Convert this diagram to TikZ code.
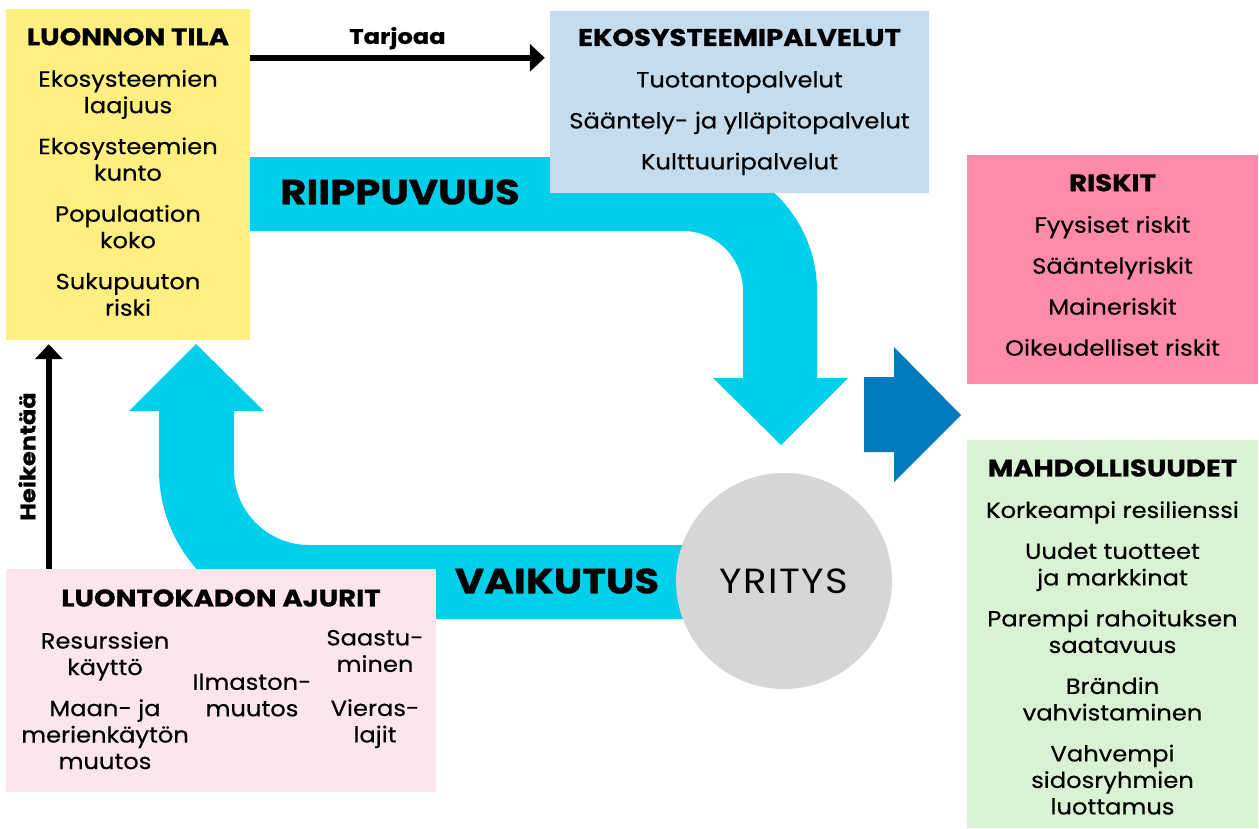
\documentclass[tikz,border=0pt]{standalone}
\usepackage{fontspec}
\setmainfont{Poppins}[FakeStretch=1.1, FakeBold=0.35]
\newfontfamily\headfont{Poppins}[FakeStretch=1.15, BoldFeatures={FakeBold=0.8}]
\newfontfamily\circlefont{Poppins}[FakeStretch=1.1, LetterSpace=4]
\usetikzlibrary{arrows.meta}
\usetikzlibrary{calc}

\definecolor{yellowbox}{HTML}{FFEE80}
\definecolor{bluebox}{HTML}{C4DCEE}
\definecolor{riskbox}{HTML}{FF8AA9}
\definecolor{greenbox}{HTML}{D9F2D3}
\definecolor{pinkbox}{HTML}{FDE5EC}
\definecolor{cyanband}{HTML}{00CFEA}
\definecolor{darkarrow}{HTML}{007BBD}
\definecolor{graycircle}{HTML}{D6D6D6}

\newcommand{\boxhead}[1]{{\fontsize{24}{26}\selectfont\headfont\bfseries #1}}
\newcommand{\arrowlabel}[1]{{\fontsize{21}{26}\selectfont\headfont\bfseries #1}}

\begin{document}
\begin{tikzpicture}[x=1pt, y=-1pt,
  box/.style={fill=#1, inner sep=0pt, align=center, font=\fontsize{22}{26.5}\selectfont},
  item/.style={inner sep=0pt, align=center, font=\fontsize{22}{26.5}\selectfont},
  bandlabel/.style={font=\fontsize{35}{35}\selectfont\headfont\bfseries},
  line/.style={line width=6pt, -{Triangle[length=15pt, width=27pt]}}]
\useasboundingbox (0,0) rectangle (1259,828);

% riippuvuus
\fill[cyanband] (250,157) -- (683,157) arc[start angle=-90, end angle=0, radius=134]
  -- (817,378) -- (848,378) -- (781,445) -- (713,378) -- (743,378) -- (743,291)
  arc[start angle=0, end angle=-90, radius=60] -- (250,231) -- cycle;
% vaikutus
\fill[cyanband] (720,545) -- (309,545) arc[start angle=90, end angle=180, radius=75]
  -- (234,411) -- (264,411) -- (196,344) -- (129,411) -- (159,411) -- (159,470)
  arc[start angle=180, end angle=90, radius=149] -- (720,619) -- cycle;
\fill[darkarrow] (864,377) -- (894,377) -- (894,347) -- (961,415) -- (894,482)
  -- (894,452) -- (864,452) -- cycle;

\node[box=yellowbox, minimum width=244pt, minimum height=331pt] (tila) at (128,174.5) {};
\node[item] (tila-text) at (128,172)
  {\boxhead{LUONNON TILA}\\[15pt]
   Ekosysteemien\\laajuus\\[14.5pt]
   Ekosysteemien\\kunto\\[14.5pt]
   Populaation\\koko\\[14.5pt]
   Sukupuuton\\riski};
\node[box=bluebox, minimum width=379pt, minimum height=182pt] (palvelut) at (739.5,102)
  {\boxhead{EKOSYSTEEMIPALVELUT}\\[15pt]
   Tuotantopalvelut\\[14.5pt]
   Sääntely- ja ylläpitopalvelut\\[14.5pt]
   Kulttuuripalvelut};
\node[box=riskbox, minimum width=291pt, minimum height=229pt] (riskit) at (1112.5,269.5) {};
\node[item] (riskit-text) at (1112.5,265)
  {\boxhead{RISKIT}\\[15pt]
   Fyysiset riskit\\[14.5pt]
   Sääntelyriskit\\[14.5pt]
   Maineriskit\\[14.5pt]
   Oikeudelliset riskit};
\node[box=greenbox, minimum width=291pt, minimum height=388pt] (mahdollisuudet) at (1112.5,634) {};
\node[item] (mahdollisuudet-text) at (1112.5,637)
  {\boxhead{MAHDOLLISUUDET}\\[15pt]
   Korkeampi resilienssi\\[14.5pt]
   Uudet tuotteet\\ja markkinat\\[14.5pt]
   Parempi rahoituksen\\saatavuus\\[14.5pt]
   Brändin\\vahvistaminen\\[14.5pt]
   Vahvempi\\sidosryhmien\\luottamus};
\node[box=pinkbox, minimum width=430pt, minimum height=223pt] (ajurit) at (221,680.5) {};
\node[item] (ajurit-title) at (221,598) {\boxhead{LUONTOKADON AJURIT}};
\node[item] (resurssit) at (105,700.5)
  {Resurssien\\käyttö\\[14.5pt]Maan- ja\\merienkäytön\\muutos};
\node[item] (ilmasto) at (252,695) {Ilmaston-\\muutos};
\node[item] (saastuminen) at (375,689)
  {Saastu-\\minen\\[17.5pt]Vieras-\\lajit};

\node[circle, fill=graycircle, minimum size=216pt, inner sep=0pt,
  font=\fontsize{35}{35}\selectfont\circlefont] (yritys) at (784,581) {YRITYS};

\node[bandlabel] (riippuvuus) at (400,192) {RIIPPUVUUS};
\node[bandlabel] (vaikutus) at (557,581) {VAIKUTUS};

\draw[line] ([yshift=-49pt]tila.north east) -- node[above=2pt] {\arrowlabel{Tarjoaa}}
  ([xshift=-5pt, yshift=-47pt]palvelut.north west);
\draw[line] ([xshift=43pt]ajurit.north west) -- node[sloped, above=7pt] {\arrowlabel{Heikentää}}
  ([xshift=43pt, yshift=-4pt]tila.south west);
\end{tikzpicture}
\end{document}
